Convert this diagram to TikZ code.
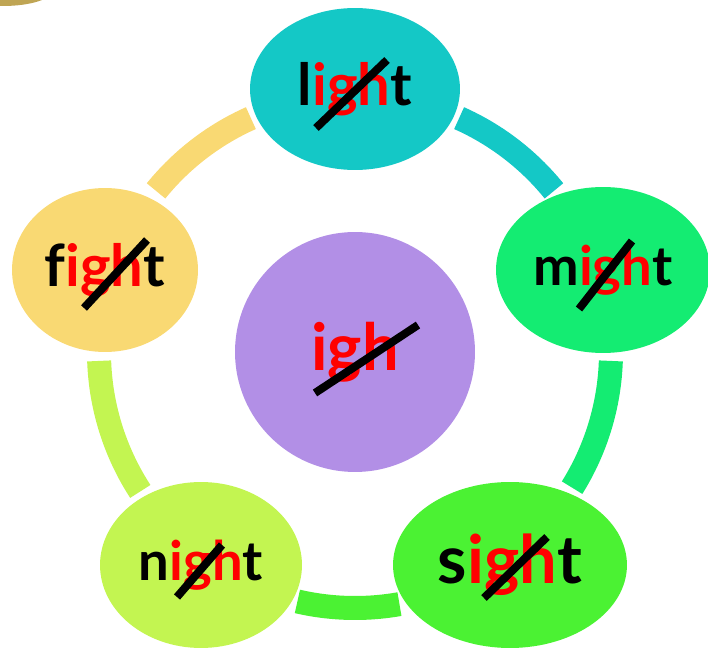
\documentclass[tikz,border=0pt]{standalone}
\usepackage{fontspec}
\setmainfont{Lato}
\usepackage{tikz}
\usetikzlibrary{calc}
\usetikzlibrary{shapes.geometric}
\definecolor{ccqqcc}{HTML}{14C8C6}
\definecolor{qqeemm}{HTML}{14EC72}
\definecolor{ddffqq}{HTML}{4BF233}
\definecolor{ccffdd}{HTML}{C3F551}
\definecolor{ffddmm}{HTML}{F9D973}
\definecolor{bbmmee}{HTML}{B28FE6}
\definecolor{bbaadd}{HTML}{BFA554}
\newcommand{\ighred}{\textcolor{red}{igh}}
\tikzset{word/.style={ellipse,inner sep=0pt,text=black,font=\bfseries},
         ringarc/.style={line width=0.48cm,line cap=butt},
         strike/.style={line width=0.16cm,black,line cap=butt}}
\begin{document}
\begin{tikzpicture}[x=0.02cm,y=0.02cm]
                \useasboundingbox (0,0) rectangle (708,650);
                \clip (0,0) rectangle (708,650);
                \fill[bbaadd] (3,660) ellipse[x radius=50,y radius=16];
                \coordinate (ringc) at (355,298);
                % ring segments between the words
                \draw[ringarc,ffddmm] ($(ringc)+(114:256)$) arc[start angle=114,end angle=141,radius=256];
                \draw[ringarc,ccqqcc] ($(ringc)+(39:256)$) arc[start angle=39,end angle=66,radius=256];
                \draw[ringarc,qqeemm] ($(ringc)+(-32:256)$) arc[start angle=-32,end angle=-2,radius=256];
                \draw[ringarc,ddffqq] ($(ringc)+(-103:256)$) arc[start angle=-103,end angle=-80,radius=256];
                \draw[ringarc,ccffdd] ($(ringc)+(182:256)$) arc[start angle=182,end angle=213,radius=256];
                % words
                \node[word,fill=bbmmee,circle,minimum size=4.8cm,font=\bfseries\fontsize{37}{39}\selectfont] (igh) at (ringc) {\ighred};
                \node[word,fill=ccqqcc,minimum width=4.2cm,minimum height=3.24cm,font=\bfseries\fontsize{33}{35}\selectfont] (light) at (355,561) {l\ighred t};
                \node[word,fill=qqeemm,minimum width=4.28cm,minimum height=3.32cm,font=\bfseries\fontsize{31}{33}\selectfont] (might) at (603,380) {m\ighred t};
                \node[word,fill=ddffqq,minimum width=4.68cm,minimum height=3.32cm,font=\bfseries\fontsize{38}{40}\selectfont] (sight) at (510,85) {s\ighred t};
                \node[word,fill=ccffdd,minimum width=4.04cm,minimum height=3.32cm,font=\bfseries\fontsize{31}{33}\selectfont] (night) at (201,85) {n\ighred t};
                \node[word,fill=ffddmm,minimum width=3.72cm,minimum height=3.28cm,font=\bfseries\fontsize{33}{35}\selectfont] (fight) at (105,380) {f\ighred t};
                % strokes through igh
                \draw[strike] (igh.center) ++(-40,-41) -- ++(103,68);
                \draw[strike] (light.center) ++(-39,-39) -- ++(71,68);
                \draw[strike] (might.center) ++(-24,-39) -- ++(53,68);
                \draw[strike] (sight.center) ++(-26,-33) -- ++(63,61);
                \draw[strike] (night.center) ++(-24,-32) -- ++(45,52);
                \draw[strike] (fight.center) ++(-21,-38) -- ++(63,68);
\end{tikzpicture}
\end{document}
